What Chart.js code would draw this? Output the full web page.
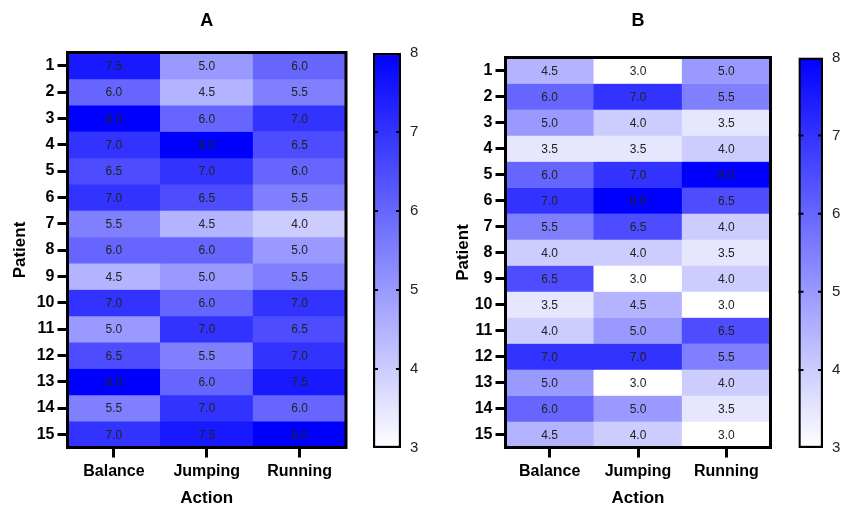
<!DOCTYPE html>
<html>
<head>
<meta charset="utf-8">
<script src="https://cdn.jsdelivr.net/npm/chart.js@4.4.1/dist/chart.umd.min.js"></script>
<style>
  body { margin: 0; background: #fff; }
  #wrap { position: relative; width: 843px; height: 511px; overflow: hidden; }
  canvas { position: absolute; top: 0; }
</style>
</head>
<body>
<div id="wrap">
  <canvas id="heatA" width="360" height="511" style="left:0"></canvas>
  <canvas id="barA" width="70" height="511" style="left:360px"></canvas>
  <canvas id="heatB" width="370" height="511" style="left:420px"></canvas>
  <canvas id="barB" width="53" height="511" style="left:790px"></canvas>
</div>
<script>
// data
const actions = ['Balance', 'Jumping', 'Running'];
const patients = [1, 2, 3, 4, 5, 6, 7, 8, 9, 10, 11, 12, 13, 14, 15];
const colorTicks = [3, 4, 5, 6, 7, 8];

// panel A, one list per action (patients 1..15)
const balanceA = [7.5, 6.0, 8.0, 7.0, 6.5, 7.0, 5.5, 6.0, 4.5, 7.0, 5.0, 6.5, 8.0, 5.5, 7.0];
const jumpingA = [5.0, 4.5, 6.0, 8.0, 7.0, 6.5, 4.5, 6.0, 5.0, 6.0, 7.0, 5.5, 6.0, 7.0, 7.5];
const runningA = [6.0, 5.5, 7.0, 6.5, 6.0, 5.5, 4.0, 5.0, 5.5, 7.0, 6.5, 7.0, 7.5, 6.0, 8.0];

// panel B
const balanceB = [4.5, 6.0, 5.0, 3.5, 6.0, 7.0, 5.5, 4.0, 6.5, 3.5, 4.0, 7.0, 5.0, 6.0, 4.5];
const jumpingB = [3.0, 7.0, 4.0, 3.5, 7.0, 8.0, 6.5, 4.0, 3.0, 4.5, 5.0, 7.0, 3.0, 5.0, 4.0];
const runningB = [5.0, 5.5, 3.5, 4.0, 8.0, 6.5, 4.0, 3.5, 4.0, 3.0, 6.5, 5.5, 4.0, 3.5, 3.0];

const FONT = "Arial, 'Liberation Sans', sans-serif";
const vMin = 3, vMax = 8;

function colorFor(v) {
    const t = Math.max(0, Math.min(1, (v - vMin) / (vMax - vMin)));
    const c = Math.round(255 * (1 - t));
    return 'rgb(' + c + ',' + c + ',255)';
}

// cell values + frame + panel letter
const heatPlugin = {
    id: 'heatText',
    afterDatasetsDraw(chart) {
        const ctx = chart.ctx;
        const ca = chart.chartArea;
        ctx.save();
        ctx.font = '12px ' + FONT;
        ctx.fillStyle = '#222';
        ctx.textAlign = 'center';
        ctx.textBaseline = 'middle';
        chart.data.datasets.forEach((ds, i) => {
            chart.getDatasetMeta(i).data.forEach((el, j) => {
                ctx.fillText(ds.vals[j].toFixed(1), el.x, (el.y + el.base) / 2 + 1);
            });
        });
        ctx.lineWidth = 3;
        ctx.strokeStyle = '#000';
        ctx.strokeRect(ca.left, ca.top, ca.right - ca.left, ca.bottom - ca.top);
        ctx.font = 'bold 18px ' + FONT;
        ctx.fillStyle = '#000';
        ctx.fillText(chart.options.panelTitle, (ca.left + ca.right) / 2, 21);
        ctx.restore();
    }
};

function makeHeatmap(id, letter, cols, geo) {
    const datasets = patients.map((p, i) => ({
        data: actions.map(() => [p - 0.5, p + 0.5]),
        vals: cols.map(c => c[i]),
        backgroundColor: cols.map(c => colorFor(c[i])),
        borderWidth: 0,
        grouped: false,
        barPercentage: 1,
        categoryPercentage: 1
    }));
    new Chart(document.getElementById(id), {
        type: 'bar',
        data: { labels: actions, datasets: datasets },
        options: {
            responsive: false,
            animation: false,
            panelTitle: letter,
            layout: { padding: { left: 0, right: geo.right, top: geo.top, bottom: 0 } },
            plugins: { legend: { display: false }, tooltip: { enabled: false } },
            scales: {
                x: {
                    offset: true,
                    grid: { offset: false, drawOnChartArea: false, tickLength: 10, tickWidth: 3, tickColor: '#000', color: '#000' },
                    border: { display: false },
                    ticks: { color: '#000', padding: 4, font: { family: FONT, size: 16, weight: 'bold' } },
                    title: { display: true, text: 'Action', color: '#000', padding: { top: 4, bottom: 2 },
                             font: { family: FONT, size: 17, weight: 'bold' } },
                    afterFit: s => { s.height = geo.axisH; }
                },
                y: {
                    type: 'linear',
                    reverse: true,
                    min: 0.5,
                    max: 15.5,
                    grid: { drawOnChartArea: false, tickLength: 10, tickWidth: 3, tickColor: '#000', color: '#000' },
                    border: { display: false },
                    ticks: { color: '#000', padding: 3, font: { family: FONT, size: 16, weight: 'bold' },
                             callback: v => String(v) },
                    afterBuildTicks: s => { s.ticks = patients.map(v => ({ value: v })); },
                    title: { display: true, text: 'Patient', color: '#000', padding: { top: geo.yTitle, bottom: 0 },
                             font: { family: FONT, size: 17, weight: 'bold' } },
                    afterFit: s => { s.width = geo.axisW; }
                }
            }
        },
        plugins: [heatPlugin]
    });
}

// colour bar ticks inside the bar
const barTicksPlugin = {
    id: 'barTicks',
    afterDatasetsDraw(chart) {
        const ctx = chart.ctx;
        const ca = chart.chartArea;
        const ys = chart.scales.y;
        ctx.save();
        ctx.strokeStyle = '#000';
        ctx.lineWidth = 2;
        colorTicks.slice(1, -1).forEach(v => {
            const y = ys.getPixelForValue(v);
            ctx.beginPath();
            ctx.moveTo(ca.left, y); ctx.lineTo(ca.left + 5, y);
            ctx.moveTo(ca.right - 5, y); ctx.lineTo(ca.right, y);
            ctx.stroke();
        });
        ctx.restore();
    }
};

function makeColorBar(id, geo) {
    new Chart(document.getElementById(id), {
        type: 'bar',
        data: {
            labels: [''],
            datasets: [{
                data: [[vMin, vMax]],
                backgroundColor: (c) => {
                    const chart = c.chart;
                    if (!chart.chartArea) return colorFor(5);
                    const ys = chart.scales.y;
                    const g = chart.ctx.createLinearGradient(0, ys.getPixelForValue(vMin), 0, ys.getPixelForValue(vMax));
                    g.addColorStop(0, colorFor(vMin));
                    g.addColorStop(1, colorFor(vMax));
                    return g;
                },
                borderColor: '#000',
                borderWidth: 2.5,
                borderSkipped: false,
                barPercentage: 1,
                categoryPercentage: 1
            }]
        },
        options: {
            responsive: false,
            animation: false,
            layout: { padding: { left: geo.left, right: 0, top: geo.top, bottom: geo.bottom } },
            plugins: { legend: { display: false }, tooltip: { enabled: false } },
            scales: {
                x: { display: false },
                y: {
                    position: 'right',
                    min: vMin,
                    max: vMax,
                    grid: { display: false, drawTicks: false },
                    border: { display: false },
                    ticks: { color: '#222', padding: geo.pad, font: { family: FONT, size: 15 } },
                    afterBuildTicks: s => { s.ticks = colorTicks.map(v => ({ value: v })); },
                    afterFit: s => { s.width = geo.axisW; }
                }
            }
        },
        plugins: [barTicksPlugin]
    });
}

makeHeatmap('heatA', 'A', [balanceA, jumpingA, runningA],
    { axisW: 67.5, axisH: 63.5, top: 52.5, right: 14, yTitle: 10 });
makeHeatmap('heatB', 'B', [balanceB, jumpingB, runningB],
    { axisW: 85.5, axisH: 63.5, top: 57.5, right: 19.5, yTitle: 33 });
makeColorBar('barA', { left: 13, top: 53, bottom: 63, axisW: 29, pad: 9 });
makeColorBar('barB', { left: 8.5, top: 57.5, bottom: 63, axisW: 20, pad: 9 });
</script>
</body>
</html>
